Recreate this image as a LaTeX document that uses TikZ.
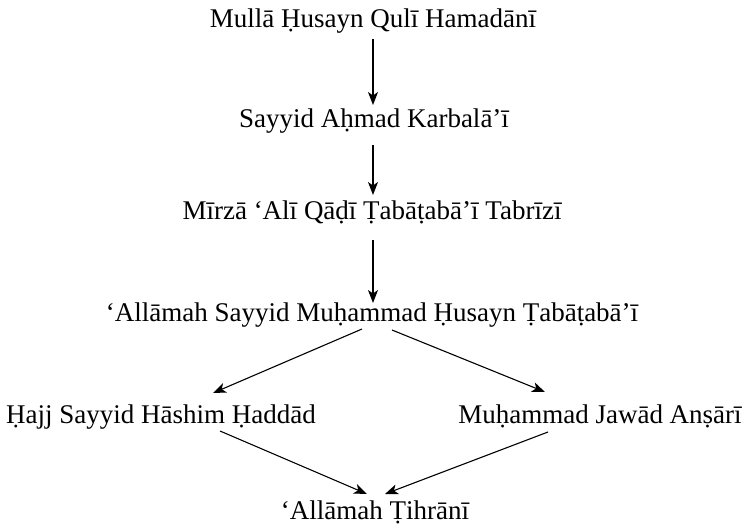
\documentclass[tikz,border=0pt]{standalone}
\usepackage{fontspec}
\setmainfont{Liberation Serif}
\usetikzlibrary{arrows.meta,calc}
\tikzset{
  person/.style={anchor=base,inner sep=0pt,font=\fontsize{27}{32}\selectfont},
  arr/.style={line width=1.1pt,-{Stealth[length=13pt,width=10pt,inset=3.5pt]}}
}
\begin{document}
\begin{tikzpicture}[x=1pt,y=-1pt]
\useasboundingbox (0,0) rectangle (745,528);
\node[person] (a) at (373,27) {Mullā Ḥusayn Qulī Hamadānī};
\node[person] (b) at (374,127) {Sayyid Aḥmad Karbalā’ī};
\node[person] (c) at (372,219) {Mīrzā ‘Alī Qāḍī Ṭabāṭabā’ī Tabrīzī};
\node[person] (d) at (372,321) {‘Allāmah Sayyid Muḥammad Ḥusayn Ṭabāṭabā’ī};
\node[person] (e) at (161,423) {Ḥajj Sayyid Hāshim Ḥaddād};
\node[person] (f) at (600,423) {Muḥammad Jawād Anṣārī};
\node[person] (g) at (375,519) {‘Allāmah Ṭihrānī};
\draw[arr] ($(a.base)+(0,12)$) -- ($(b.base)+(-1,-22)$);
\draw[arr] ($(b.base)+(-1,18)$) -- ($(c.base)+(1,-24)$);
\draw[arr] ($(c.base)+(1,21)$) -- ($(d.base)+(1,-18)$);
\draw[arr] ($(d.base)+(-10,8)$) -- ($(e.base)+(52,-30)$);
\draw[arr] ($(d.base)+(20,9)$) -- ($(f.base)+(-55,-31)$);
\draw[arr] ($(e.base)+(59,8)$) -- ($(g.base)+(-8,-25)$);
\draw[arr] ($(f.base)+(-52,9)$) -- ($(g.base)+(10,-25)$);
\end{tikzpicture}
\end{document}
